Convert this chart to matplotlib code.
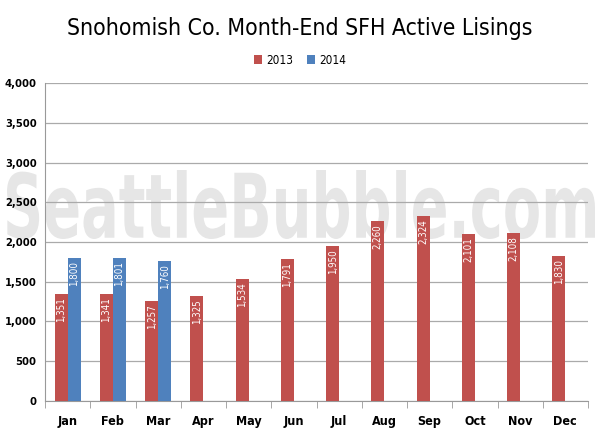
import numpy as np
import matplotlib.pyplot as plt
from matplotlib.textpath import TextPath
from matplotlib.patches import PathPatch
from matplotlib.font_manager import FontProperties
from matplotlib.transforms import Affine2D

months = ['Jan', 'Feb', 'Mar', 'Apr', 'May', 'Jun', 'Jul', 'Aug', 'Sep', 'Oct', 'Nov', 'Dec']
y2013 = [1351, 1341, 1257, 1325, 1534, 1791, 1950, 2260, 2324, 2101, 2108, 1830]
y2014 = [1800, 1801, 1760]

plt.rcParams['font.family'] = ['DejaVu Sans']
plt.rcParams['font.stretch'] = 'condensed'

fig = plt.figure(figsize=(6, 4.36), dpi=100)
ax = fig.add_axes([0.075, 0.0803, 0.905, 0.7293])

x = np.arange(len(months))
w = 0.29
red = '#C0504D'
blue = '#4F81BD'

# watermark, stretched to fill its box in the reference
tp = TextPath((0, 0), 'SeattleBubble.com', size=50,
              prop=FontProperties(family='DejaVu Sans', weight='bold', stretch='condensed'))
ext = tp.get_extents()
bx0, bx1, by0, by1 = 7 / 600, 595 / 600, 197 / 436, 266 / 436
tr = (Affine2D().translate(-ext.x0, -ext.y0)
      .scale((bx1 - bx0) / ext.width, (by1 - by0) / ext.height)
      .translate(bx0, by0) + fig.transFigure)
fig.add_artist(PathPatch(tp, transform=tr, facecolor='#e6e6e6', edgecolor='none', zorder=-1))

b1 = ax.bar(x - w / 2, y2013, w, color=red, label='2013', zorder=3)
b2 = ax.bar(x[:len(y2014)] + w / 2, y2014, w, color=blue, label='2014', zorder=3)

for bars in (b1, b2):
    for b in bars:
        h = b.get_height()
        ax.text(b.get_x() + b.get_width() / 2, h - 40, f'{h:,.0f}', rotation=90,
                ha='center', va='top', color='white', fontsize=7, zorder=4)

ax.set_xlim(-0.5, 11.5)
ax.set_ylim(0, 4000)
ax.set_yticks(range(0, 4001, 500))
ax.set_yticklabels([f'{v:,}' for v in range(0, 4001, 500)], fontsize=8, fontweight='bold')
ax.set_xticks(x)
ax.set_xticklabels(months, fontsize=9, fontweight='bold')
ax.set_xticks(np.arange(-0.5, 12, 1), minor=True)
ax.tick_params(axis='x', which='major', length=0, pad=10)
ax.tick_params(axis='x', which='minor', length=5, color='#999999')
ax.tick_params(axis='y', length=0, pad=6)
ax.grid(axis='y', color='#aaaaaa', linewidth=0.9, zorder=1)
ax.set_axisbelow(True)
ax.patch.set_alpha(0)
for s in ['top', 'right']:
    ax.spines[s].set_visible(False)
ax.spines['bottom'].set_color('#999999')
ax.spines['left'].set_color('#999999')

fig.text(0.5, 0.935, 'Snohomish Co. Month-End SFH Active Lisings', ha='center', va='center',
         fontsize=16.5)
fig.legend(loc='center', bbox_to_anchor=(0.5, 0.862), ncol=2, frameon=False, fontsize=8.5,
           handlelength=0.7, handleheight=0.7, handletextpad=0.3, columnspacing=1.2)

fig.savefig('out.png', dpi=100)
